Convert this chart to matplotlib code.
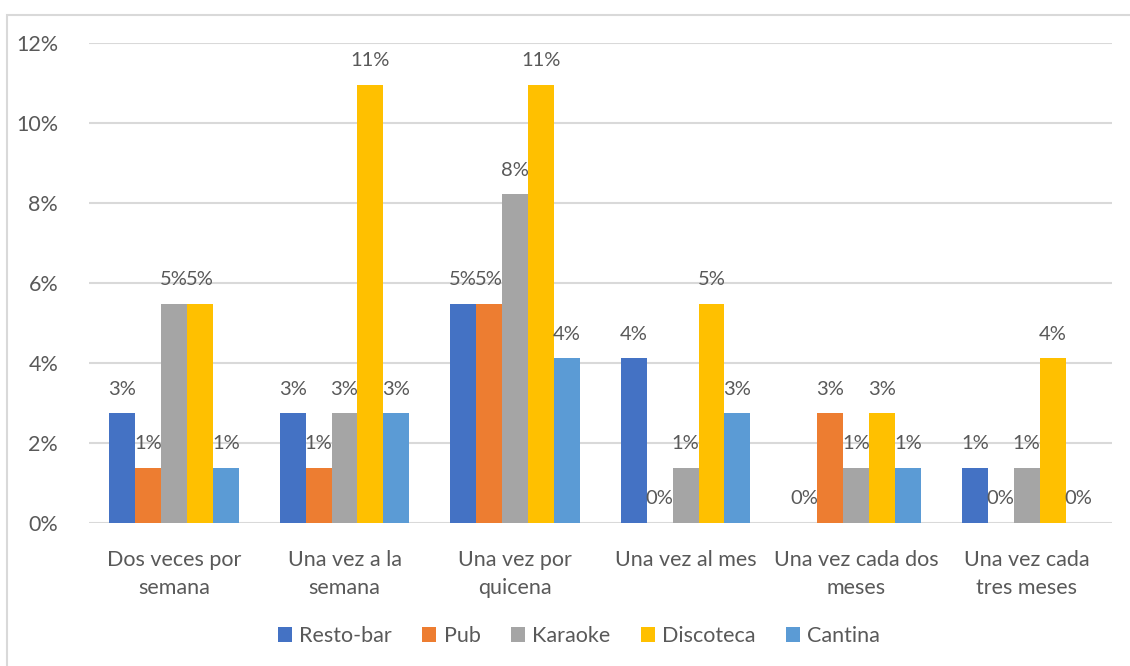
import matplotlib.pyplot as plt
import numpy as np
from matplotlib.patches import Rectangle

# Frequency categories and series (counts out of 73 respondents, as %)
categories = ['Dos veces por\nsemana', 'Una vez a la\nsemana', 'Una vez por\nquicena',
              'Una vez al mes', 'Una vez cada dos\nmeses', 'Una vez cada\ntres meses']
series = ['Resto-bar', 'Pub', 'Karaoke', 'Discoteca', 'Cantina']
resto_bar = [2.74, 2.74, 5.48, 4.11, 0.00, 1.37]
pub = [1.37, 1.37, 5.48, 0.00, 2.74, 0.00]
karaoke = [5.48, 2.74, 8.22, 1.37, 1.37, 1.37]
discoteca = [5.48, 10.96, 10.96, 5.48, 2.74, 4.11]
cantina = [1.37, 2.74, 4.11, 2.74, 1.37, 0.00]
values = [resto_bar, pub, karaoke, discoteca, cantina]
colors = ['#4472C4', '#ED7D31', '#A5A5A5', '#FFC000', '#5B9BD5']

plt.rcParams['font.family'] = ['Lato', 'DejaVu Sans']
txt = '#595959'
fs = 15.5

fig = plt.figure(figsize=(11.3, 6.66), dpi=100)
ax = fig.add_axes([0.0785, 0.2152, 0.9055, 0.7198])

# light border around the chart area
fig.patches.append(Rectangle((7 / 1130, -0.1), 1.2, (666 - 15) / 666 + 0.1,
                             transform=fig.transFigure, fill=False,
                             edgecolor='#D9D9D9', linewidth=1.5))

x = np.arange(len(categories))
w = 0.152
for i, (name, vals) in enumerate(zip(series, values)):
    pos = x + (i - 2) * w
    ax.bar(pos, vals, width=w, color=colors[i], label=name, zorder=3)
    for px, v in zip(pos, vals):
        ax.text(px, v + 0.6, f'{v:.0f}%', ha='center', va='center',
                fontsize=14.5, color=txt, zorder=4)

ax.set_xlim(-0.5, len(categories) - 0.5)
ax.set_ylim(0, 12)
ax.set_yticks(np.arange(0, 13, 2))
ax.set_yticklabels([f'{t}%' for t in range(0, 13, 2)])
ax.set_xticks(x)
ax.set_xticklabels(categories, linespacing=1.5)
ax.tick_params(axis='both', length=0, labelsize=fs, labelcolor=txt)
ax.tick_params(axis='y', pad=22)
ax.tick_params(axis='x', pad=20)
ax.grid(axis='y', color='#D9D9D9', linewidth=1.5, zorder=0)
for s in ax.spines.values():
    s.set_visible(False)

ax.legend(loc='center', bbox_to_anchor=(579 / 1130, 1 - 636 / 666),
          bbox_transform=fig.transFigure, ncol=5, frameon=False,
          fontsize=fs, labelcolor=txt, handlelength=0.65, handleheight=0.65,
          handletextpad=0.35, columnspacing=1.4)

fig.savefig('out.png', dpi=100)
